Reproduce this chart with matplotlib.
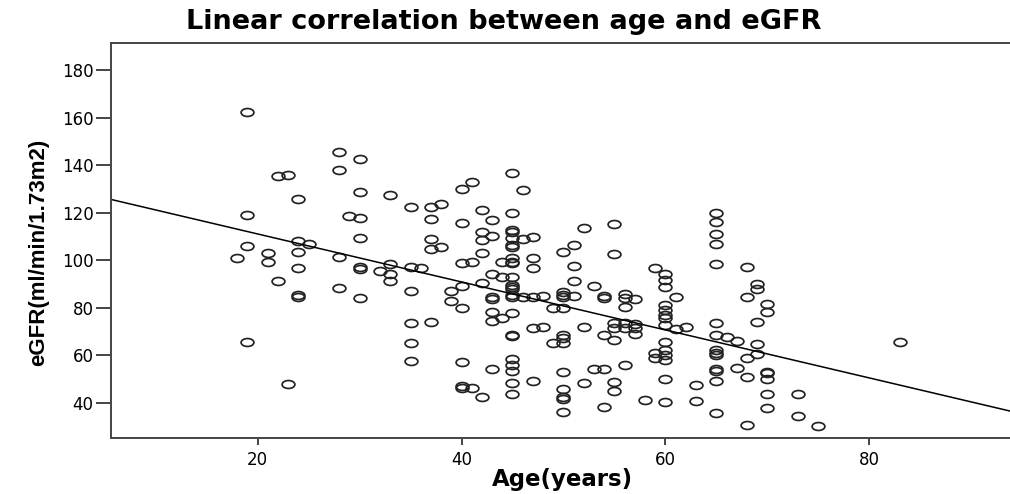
import numpy as np
import matplotlib
matplotlib.use("Agg")
import matplotlib.pyplot as plt
from matplotlib.path import Path
from matplotlib.transforms import Affine2D

# data: age (years) and eGFR (ml/min/1.73m2)
age = [19, 22, 23, 24, 19, 24, 25, 19, 21, 18, 24, 21, 24, 22, 24, 24, 19, 23,
       28, 30, 28, 30, 33, 35, 37, 38, 40, 41, 45, 46, 29, 30, 37, 40, 42, 43,
       45, 45, 45, 42, 42, 43, 45, 46, 47, 30, 37, 37, 38, 42, 45, 45, 45, 45,
       45, 47, 47, 44, 40, 41, 28, 30, 30, 33, 32, 33, 33, 35, 36, 43, 44, 45,
       45, 45, 42, 40, 28, 35, 39, 30, 43, 43, 45, 45, 45, 46, 47, 39, 40, 43,
       43, 44, 45, 45, 45, 47, 35, 37, 35, 35, 40, 43, 45, 45, 45, 45, 45, 47,
       40, 40, 41, 42, 52, 55, 51, 50, 55, 51, 65, 65, 65, 65, 65, 68, 68, 59,
       60, 60, 60, 61, 51, 53, 50, 50, 50, 48, 51, 54, 54, 56, 56, 57, 60, 60,
       60, 60, 60, 56, 49, 50, 57, 57, 57, 55, 55, 56, 56, 48, 52, 50, 50, 50,
       49, 54, 55, 61, 62, 60, 60, 59, 59, 60, 60, 65, 65, 66, 67, 65, 65, 65,
       65, 65, 65, 67, 68, 68, 68, 50, 50, 50, 50, 50, 52, 53, 54, 55, 55, 56,
       54, 58, 60, 60, 63, 63, 65, 69, 69, 70, 70, 69, 69, 69, 70, 70, 70, 70,
       70, 73, 73, 75, 83]
egfr = [162.4, 135.5, 135.9, 125.8, 119.0, 108.2, 106.8, 105.9, 102.9, 101.0,
        103.5, 99.2, 96.8, 91.1, 84.6, 85.3, 65.6, 48.0,
        145.6, 142.6, 137.9, 128.8, 127.4, 122.5, 122.2, 123.5, 130.0, 132.7,
        136.8, 129.5, 118.7, 117.8, 117.3, 115.7, 121.1, 116.9,
        120.0, 112.7, 112.0, 112.0, 108.5, 110.1, 109.2, 108.7, 109.6, 109.2,
        108.9, 104.5, 105.6, 103.1, 105.6, 106.2, 100.7, 98.6,
        99.3, 100.7, 96.5, 99.3, 98.9, 99.3, 101.4, 97.2, 96.3, 98.4, 95.5,
        94.1, 91.3, 97.0, 96.5, 94.1, 93.0, 93.0,
        88.8, 89.6, 90.5, 89.1, 88.1, 87.1, 87.1, 83.9, 84.6, 83.6, 84.6, 85.5,
        87.8, 84.6, 84.3, 82.8, 80.0, 78.3,
        74.5, 75.5, 77.6, 68.5, 68.0, 71.3, 73.6, 74.1, 65.0, 57.5, 57.2, 54.0,
        58.4, 55.8, 53.4, 48.4, 43.6, 49.2,
        47.0, 46.3, 46.0, 42.2, 113.4, 115.1, 106.3, 103.5, 102.4, 97.6, 119.9,
        115.9, 111.0, 106.6, 98.5, 97.0, 84.6, 96.5,
        94.1, 91.6, 88.8, 84.6, 91.3, 89.2, 86.7, 85.5, 84.6, 84.9, 84.9, 84.9,
        84.2, 85.6, 84.0, 83.5, 81.1, 79.0,
        76.9, 75.5, 72.7, 80.1, 79.7, 79.7, 73.1, 71.5, 69.0, 73.6, 71.3, 73.4,
        71.3, 72.0, 72.0, 68.5, 67.2, 65.0,
        65.0, 68.5, 66.4, 70.9, 72.0, 65.7, 62.2, 60.8, 58.7, 60.0, 58.0, 73.6,
        68.5, 67.8, 66.1, 62.2, 61.0, 60.0,
        54.0, 53.4, 49.2, 54.5, 58.7, 50.7, 30.6, 53.0, 45.7, 42.5, 41.5, 36.0,
        48.4, 54.0, 54.0, 48.6, 45.0, 55.8,
        38.3, 41.1, 50.0, 40.1, 47.4, 40.8, 35.8, 89.9, 87.7, 81.5, 78.0, 73.8,
        64.7, 60.3, 53.0, 52.4, 50.0, 43.6,
        37.6, 43.6, 34.4, 30.3, 65.5]

# fitted line as drawn on the chart
fit_intercept = 131.2
fit_slope = -1.01

x_ticks = [20, 40, 60, 80]
y_ticks = [40, 60, 80, 100, 120, 140, 160, 180]

# the source image is stretched sideways, so a wide face stands in for Arial
plt.rcParams['font.family'] = ['DejaVu Sans']

fig = plt.figure(figsize=(10.10, 4.94), dpi=100)
ax = fig.add_axes([0.1097, 0.1128, 0.8903, 0.8008])

# circles in the source are squashed into wide ellipses
ellipse = Path.unit_circle().transformed(Affine2D().scale(1.0, 0.62))
ax.plot(age, egfr, linestyle='none', marker=ellipse, markersize=9.2,
        markerfacecolor='none', markeredgecolor='#222222', markeredgewidth=1.25)

xlim = (5.6, 93.8)
xs = np.array(xlim)
ax.plot(xs, fit_intercept + fit_slope * xs, color='black', lw=1.1)

ax.set_xlim(*xlim)
ax.set_ylim(25.0, 191.5)
ax.set_xticks(x_ticks)
ax.set_yticks(y_ticks)

for s in ['left', 'bottom', 'top']:
    ax.spines[s].set_color('#444444')
    ax.spines[s].set_linewidth(1.4)
ax.spines['right'].set_visible(False)

ax.tick_params(axis='y', length=11, width=1.4, color='#444444', pad=1.5, labelsize=12)
ax.tick_params(axis='x', length=5, width=1.4, color='#444444', pad=4, labelsize=12)

ax.set_ylabel('eGFR(ml/min/1.73m2)', fontsize=16, fontweight='bold',
              family=['Liberation Sans', 'DejaVu Sans'])
ax.yaxis.set_label_coords(-0.069, 0.47)

fig.text(0.499, 0.941, 'Linear correlation between age and eGFR',
         fontsize=19.5, fontweight='bold', ha='center', va='baseline')
fig.text(0.557, 0.016, 'Age(years)', fontsize=16.5, fontweight='bold',
         ha='center', va='baseline')

fig.savefig('out.png', dpi=100)
